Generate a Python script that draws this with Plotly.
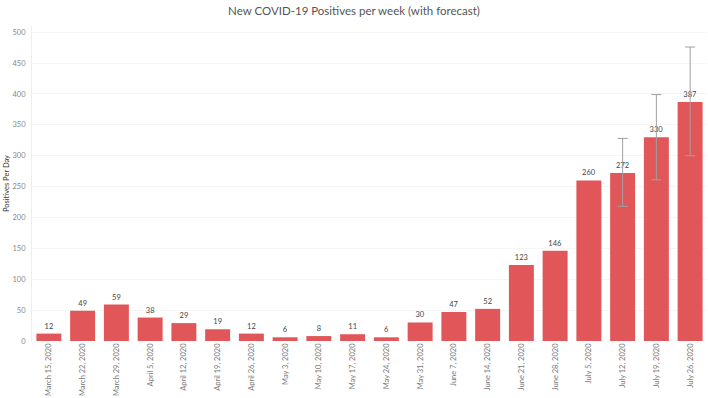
import plotly.graph_objects as go

weeks = ["March 15, 2020", "March 22, 2020", "March 29, 2020", "April 5, 2020",
         "April 12, 2020", "April 19, 2020", "April 26, 2020", "May 3, 2020",
         "May 10, 2020", "May 17, 2020", "May 24, 2020", "May 31, 2020",
         "June 7, 2020", "June 14, 2020", "June 21, 2020", "June 28, 2020",
         "July 5, 2020", "July 12, 2020", "July 19, 2020", "July 26, 2020"]
positives = [12, 49, 59, 38, 29, 19, 12, 6, 8, 11, 6, 30, 47, 52, 123, 146, 260, 272, 330, 387]
forecast_weeks = ["July 12, 2020", "July 19, 2020", "July 26, 2020"]
forecast_values = [272, 330, 387]
forecast_upper = [328, 399, 476]
forecast_lower = [218, 261, 300]
y_ticks = [0, 50, 100, 150, 200, 250, 300, 350, 400, 450, 500]

err_plus = [u - v for u, v in zip(forecast_upper, forecast_values)]
err_minus = [v - l for l, v in zip(forecast_lower, forecast_values)]

fig = go.Figure()
fig.add_trace(go.Bar(
    x=weeks, y=positives,
    marker=dict(color="#E15759", line=dict(width=0)),
    text=[str(v) for v in positives],
    textposition="outside",
    textfont=dict(size=7.5, color="#444444", family="Lato"),
    cliponaxis=False,
))
fig.add_trace(go.Scatter(
    x=forecast_weeks, y=forecast_values,
    mode="markers", marker=dict(size=1, opacity=0),
    error_y=dict(type="data", symmetric=False, array=err_plus, arrayminus=err_minus,
                 color="#a0a0a0", thickness=1, width=5),
    hoverinfo="skip",
))

fig.update_layout(
    width=708, height=398,
    margin=dict(l=32, r=1, t=26, b=57),
    paper_bgcolor="white", plot_bgcolor="white",
    bargap=0.26,
    showlegend=False,
    font=dict(family="Lato", color="#666666"),
    title=dict(text="New COVID-19 Positives per week (with forecast)",
               x=0.5, xanchor="center", y=0.982, yanchor="top",
               font=dict(size=11.5, color="#555555", family="Lato")),
    xaxis=dict(range=[-0.5, len(weeks) - 0.5],
               tickangle=-90, tickfont=dict(size=7.5, color="#777777"),
               showgrid=False, showline=False, ticks="", automargin=False),
    yaxis=dict(range=[0, 510], tickvals=y_ticks,
               tickfont=dict(size=7.5, color="#888888"),
               showgrid=True, gridcolor="#f5f5f5", gridwidth=1,
               zeroline=False, showline=True, linecolor="#eeeeee", linewidth=1,
               ticks="", ticklabelstandoff=4, automargin=False,
               title=dict(text="Positives Per Day", standoff=1,
                          font=dict(size=7.5, color="#333333", family="Lato"))),
)

fig.write_html("out.html", config={"displayModeBar": False},
               post_script="document.body.style.margin='0';document.body.style.overflow='hidden';")
